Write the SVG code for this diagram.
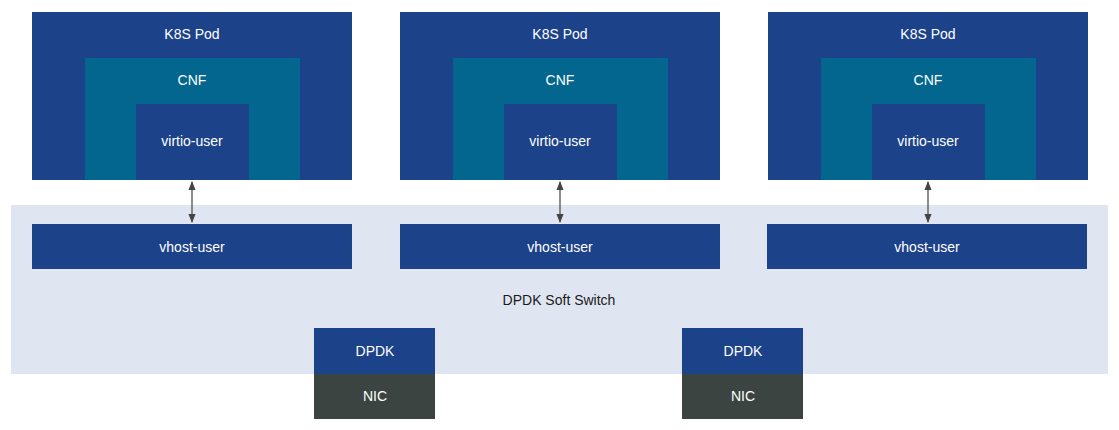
<svg xmlns="http://www.w3.org/2000/svg" width="1119" height="430" viewBox="0 0 1119 430">
<style>
.pod{fill:#1c428a}
.cnf{fill:#02668e}
.vu{fill:#1c428a}
.nic{fill:#3c4441}
.sw{fill:#e0e6f1}
text{font-family:"Liberation Sans",Arial,sans-serif;font-size:14px;fill:#ffffff;text-anchor:middle}
.dark{fill:#1a1a1a}
.conn{stroke:#666;stroke-width:1.5;fill:none}
</style>
<defs>
<marker id="ah" viewBox="0 0 10 10" refX="9" refY="5" markerWidth="6" markerHeight="6" orient="auto-start-reverse">
<path d="M0,1 L10,5 L0,9 z" fill="#444"/>
</marker>
</defs>
<rect class="sw" x="11" y="205" width="1097" height="169"/>
<text class="dark" x="559" y="305">DPDK Soft Switch</text>
<g id="pod1">
<rect class="pod" x="32" y="12" width="320" height="168"/>
<text x="192" y="39">K8S Pod</text>
<rect class="cnf" x="85" y="58" width="215" height="122"/>
<text x="192" y="85">CNF</text>
<rect class="vu" x="136" y="104" width="113" height="76"/>
<text x="192" y="146">virtio-user</text>
</g>
<g id="pod2">
<rect class="pod" x="400" y="12" width="320" height="168"/>
<text x="560" y="39">K8S Pod</text>
<rect class="cnf" x="453" y="58" width="215" height="122"/>
<text x="560" y="85">CNF</text>
<rect class="vu" x="504" y="104" width="113" height="76"/>
<text x="560" y="146">virtio-user</text>
</g>
<g id="pod3">
<rect class="pod" x="768" y="12" width="320" height="168"/>
<text x="928" y="39">K8S Pod</text>
<rect class="cnf" x="821" y="58" width="215" height="122"/>
<text x="928" y="85">CNF</text>
<rect class="vu" x="872" y="104" width="113" height="76"/>
<text x="928" y="146">virtio-user</text>
</g>
<g id="vhost1">
<rect class="pod" x="32" y="224" width="320" height="45"/>
<text x="192" y="252">vhost-user</text>
</g>
<g id="vhost2">
<rect class="pod" x="400" y="224" width="320" height="45"/>
<text x="560" y="252">vhost-user</text>
</g>
<g id="vhost3">
<rect class="pod" x="767" y="224" width="320" height="45"/>
<text x="927" y="252">vhost-user</text>
</g>
<g id="dpdk1">
<rect class="pod" x="314" y="328" width="121" height="46"/>
<text x="375" y="356">DPDK</text>
</g>
<g id="nic1">
<rect class="nic" x="314" y="374" width="121" height="45"/>
<text x="375" y="401">NIC</text>
</g>
<g id="dpdk2">
<rect class="pod" x="682" y="328" width="121" height="46"/>
<text x="743" y="356">DPDK</text>
</g>
<g id="nic2">
<rect class="nic" x="682" y="374" width="121" height="45"/>
<text x="743" y="401">NIC</text>
</g>
<g id="connectors">
<line class="conn" x1="192" y1="182" x2="192" y2="222" marker-start="url(#ah)" marker-end="url(#ah)"/>
<line class="conn" x1="560" y1="182" x2="560" y2="222" marker-start="url(#ah)" marker-end="url(#ah)"/>
<line class="conn" x1="928" y1="182" x2="928" y2="222" marker-start="url(#ah)" marker-end="url(#ah)"/>
</g>
</svg>
